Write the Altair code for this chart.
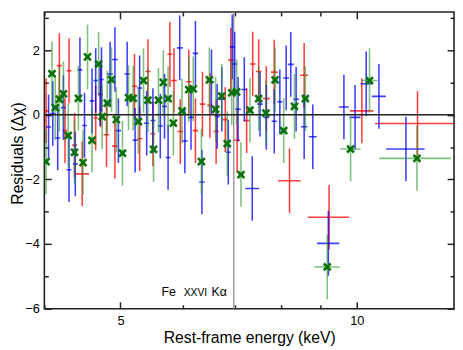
import altair as alt
import pandas as pd

# ---------------- data ----------------
YERR = 1.0  # delta-chi residuals: every error bar is +-1

red_e = [4.02, 4.18, 4.25, 4.30, 4.37, 4.47, 4.65, 4.72, 4.80, 4.92,
         5.21, 5.29, 5.42, 5.50, 5.78, 5.85, 5.96, 6.11, 6.23, 6.36,
         6.50, 6.62, 6.80, 6.91, 7.04, 7.24, 7.37, 7.50, 7.67, 7.85,
         8.21, 8.57, 9.22, 10.15, 11.95]
red_v = [0.12, 1.52, -0.49, 1.36, -0.94, -1.83, -0.10, 0.61, -0.62, -0.97,
         0.88, -0.74, 1.34, -0.59, 1.87, 1.06, -0.52, 1.02, -0.49, 0.33,
         0.29, -0.52, -0.15, 1.69, -0.79, -0.18, 1.57, 1.34, 0.50, 1.32,
         -2.04, 1.22, -3.17, 0.12, -0.27]
red_xerr = [0.03, 0.03, 0.03, 0.03, 0.03, 0.09, 0.03, 0.03, 0.04, 0.04,
            0.04, 0.04, 0.04, 0.04, 0.04, 0.05, 0.05, 0.05, 0.05, 0.05,
            0.05, 0.05, 0.05, 0.05, 0.06, 0.06, 0.06, 0.06, 0.08, 0.08,
            0.27, 0.10, 0.56, 0.35, 1.40]

blue_e = [4.05, 4.10, 4.16, 4.23, 4.30, 4.38, 4.44, 4.50, 4.60, 4.65,
          4.71, 4.73, 4.85, 4.92, 4.97, 5.10, 5.22, 5.29, 5.40, 5.50,
          5.62, 5.69, 5.75, 5.95, 6.04, 6.15, 6.23, 6.35, 6.53, 6.64,
          6.73, 6.86, 6.94, 6.99, 7.06, 7.19, 7.36, 7.53, 7.67, 7.85,
          7.98, 8.13, 8.24, 8.37, 8.57, 8.79, 9.20, 9.63, 9.95, 10.28,
          10.67, 11.55]
blue_v = [-0.38, 0.04, -0.72, 0.22, -1.70, -1.52, 1.39, -0.33, 0.43, 1.06,
          0.65, 1.09, 1.26, 1.71, -0.49, 1.26, -0.79, 0.83, -0.26, -0.18,
          -0.35, 0.26, -1.32, 2.07, -0.81, -0.08, 1.90, -2.08, 1.02, -0.05,
          0.48, -1.16, 2.10, 1.57, 0.17, 0.78, -2.28, 0.33, -0.08, -0.20,
          0.40, 1.14, 1.56, 0.48, -0.37, -0.68, -3.98, 0.24, -0.08, 0.96,
          0.57, -1.06]
blue_xerr = [0.03, 0.03, 0.03, 0.03, 0.03, 0.03, 0.03, 0.03, 0.03, 0.03,
             0.03, 0.03, 0.04, 0.04, 0.04, 0.04, 0.04, 0.04, 0.04, 0.04,
             0.04, 0.04, 0.04, 0.05, 0.05, 0.05, 0.05, 0.05, 0.05, 0.05,
             0.05, 0.05, 0.05, 0.05, 0.06, 0.06, 0.15, 0.06, 0.06, 0.06,
             0.06, 0.07, 0.07, 0.07, 0.08, 0.10, 0.30, 0.14, 0.16, 0.17,
             0.22, 0.65]

green_e = [4.02, 4.09, 4.13, 4.18, 4.23, 4.29, 4.37, 4.42, 4.48, 4.54,
           4.60, 4.69, 4.74, 4.81, 4.87, 4.94, 5.03, 5.12, 5.19, 5.27,
           5.35, 5.42, 5.51, 5.59, 5.67, 5.75, 5.84, 5.99, 6.11, 6.19,
           6.34, 6.49, 6.61, 6.73, 6.84, 6.93, 7.03, 7.12, 7.31, 7.50,
           7.66, 7.87, 8.07, 8.33, 8.60, 9.17, 9.82, 10.38, 11.93]
green_v = [-1.45, 1.27, 0.22, 0.48, 0.65, -0.64, -1.16, 0.51, -1.48, 1.79,
           -0.79, 1.57, -0.06, 0.36, 1.09, -0.15, -1.19, 0.53, 0.51, -0.21,
           1.06, 0.45, -1.07, 0.45, 1.00, 0.50, -0.26, 0.12, 0.78, 0.80,
           -1.45, 1.08, 0.17, 0.58, -0.89, 0.68, 0.71, -1.85, 0.14, 0.50,
           0.05, 1.08, -0.49, 0.26, 0.50, -4.71, -1.06, 1.06, -1.35]
green_xerr = [0.03, 0.03, 0.03, 0.03, 0.03, 0.03, 0.03, 0.03, 0.03, 0.03,
              0.03, 0.03, 0.04, 0.04, 0.04, 0.04, 0.04, 0.04, 0.04, 0.04,
              0.04, 0.04, 0.04, 0.04, 0.04, 0.05, 0.05, 0.05, 0.05, 0.05,
              0.05, 0.05, 0.05, 0.05, 0.05, 0.05, 0.06, 0.06, 0.06, 0.06,
              0.07, 0.07, 0.08, 0.08, 0.09, 0.34, 0.29, 0.25, 1.25]

line_energy = [6.97]          # Fe XXVI K-alpha rest energy (keV)
label_y = [-5.61]
x_major_ticks = [5, 10]
x_minor_ticks = [4, 6, 7, 8, 9]
y_major_ticks = [-6, -4, -2, 0, 2]
y_minor_ticks = [-5, -3, -1, 1, 3]


def frame(e, v, xerr, name):
    return pd.DataFrame({
        "series": name,
        "E": e,
        "v": v,
        "lo": [a - YERR for a in v],
        "hi": [a + YERR for a in v],
        "xlo": [a - b for a, b in zip(e, xerr)],
        "xhi": [a + b for a, b in zip(e, xerr)],
    })


red = frame(red_e, red_v, red_xerr, "red")
blue = frame(blue_e, blue_v, blue_xerr, "blue")
green = frame(green_e, green_v, green_xerr, "green")
alldf = pd.concat([red, blue, green], ignore_index=True)

xs = alt.Scale(type="log", domain=[4.0, 13.3], nice=False)
ys = alt.Scale(domain=[-6.0, 3.18], nice=False)

FONT = "Liberation Sans"
TK = dict(grid=False, domain=False, labels=False, title=None,
          tickColor="#222222", tickWidth=1.5)


def bars(df, color, opacity):
    v = alt.Chart(df).mark_rule(color=color, opacity=opacity, strokeWidth=1.6, clip=True).encode(
        x=alt.X("E:Q", scale=xs, axis=None),
        y=alt.Y("lo:Q", scale=ys, axis=None),
        y2="hi:Q",
    )
    h = alt.Chart(df).mark_rule(color=color, opacity=opacity, strokeWidth=1.6, clip=True).encode(
        x=alt.X("xlo:Q", scale=xs, axis=None),
        x2="xhi:Q",
        y=alt.Y("v:Q", scale=ys, axis=None),
    )
    return [v, h]


def carrier(xaxis, yaxis):
    return alt.Chart(alldf).mark_point(opacity=0).encode(
        x=alt.X("E:Q", scale=xs, axis=xaxis),
        y=alt.Y("v:Q", scale=ys, axis=yaxis),
    )


x_lab = alt.Axis(orient="bottom", values=x_major_ticks, ticks=False, grid=False, domain=False,
                 format="d", labelFontSize=13, labelPadding=6, labelColor="black", labelFont=FONT,
                 labelFlush=False,
                 title="Rest-frame energy (keV)", titleFontSize=16, titleFontWeight="normal",
                 titleColor="black", titleFont=FONT, titleX=208.5, titleY=34,
                 titleAlign="center", titleBaseline="alphabetic")
y_lab = alt.Axis(orient="left", values=y_major_ticks, ticks=False, grid=False, domain=False,
                 format="d", labelFontSize=13, labelPadding=5, labelColor="black", labelFont=FONT,
                 labelFlush=False,
                 title="Residuals (Δχ)", titleFontSize=16, titleFontWeight="normal",
                 titleColor="black", titleFont=FONT, titleX=-27, titleY=143.5,
                 titleAlign="center", titleBaseline="middle")

carriers = [
    carrier(x_lab, y_lab),
    carrier(alt.Axis(orient="bottom", values=x_major_ticks, tickSize={"expr": "-7"}, **TK),
            alt.Axis(orient="left", values=y_major_ticks, tickSize={"expr": "-7"}, **TK)),
    carrier(alt.Axis(orient="bottom", values=x_minor_ticks, tickSize={"expr": "-4"}, **TK),
            alt.Axis(orient="left", values=y_minor_ticks, tickSize={"expr": "-4"}, **TK)),
    carrier(alt.Axis(orient="top", values=x_major_ticks, tickSize={"expr": "-7"}, **TK),
            alt.Axis(orient="right", values=y_major_ticks, tickSize={"expr": "-7"}, **TK)),
    carrier(alt.Axis(orient="top", values=x_minor_ticks, tickSize={"expr": "-4"}, **TK),
            alt.Axis(orient="right", values=y_minor_ticks, tickSize={"expr": "-4"}, **TK)),
]

fe_df = pd.DataFrame({"E": line_energy, "y": label_y})
fe_line = alt.Chart(fe_df).mark_rule(color="#9a9a9a", strokeWidth=1.5).encode(
    x=alt.X("E:Q", scale=xs, axis=None))

zero_df = pd.DataFrame({"y": [0.0]})
zero_line = alt.Chart(zero_df).mark_rule(color="#222222", strokeWidth=1.6).encode(
    y=alt.Y("y:Q", scale=ys, axis=None))

markers = alt.Chart(green).mark_point(shape="M -1 -1 L 1 1 M -1 1 L 1 -1", filled=False,
                                      size=50, strokeWidth=2.6, color="#0a700a",
                                      opacity=1, clip=True).encode(
    x=alt.X("E:Q", scale=xs, axis=None),
    y=alt.Y("v:Q", scale=ys, axis=None),
)


def label(txt, dx, size):
    return alt.Chart(fe_df).mark_text(text=txt, align="right", baseline="alphabetic", dx=dx,
                                      fontSize=size, font=FONT, color="black").encode(
        x=alt.X("E:Q", scale=xs, axis=None),
        y=alt.Y("y:Q", scale=ys, axis=None),
    )


layers = (carriers + [fe_line]
          + bars(red, "#ff0000", 0.75)
          + bars(blue, "#0000ff", 0.75)
          + bars(green, "#2a962a", 0.6)
          + [zero_line, markers,
             label("Fe", -59, 12.5), label("XXVI", -27, 10.5), label("Kα", -7, 12.5)])

chart = alt.layer(*layers).resolve_axis(x="independent", y="independent").properties(
    width=417, height=302,
    padding={"left": 37, "top": 1, "right": 1, "bottom": 39},
    autosize="none",
).configure_view(stroke="#222222", strokeWidth=1.6)

chart.save("out.html", embed_options={"renderer": "svg", "actions": False})
